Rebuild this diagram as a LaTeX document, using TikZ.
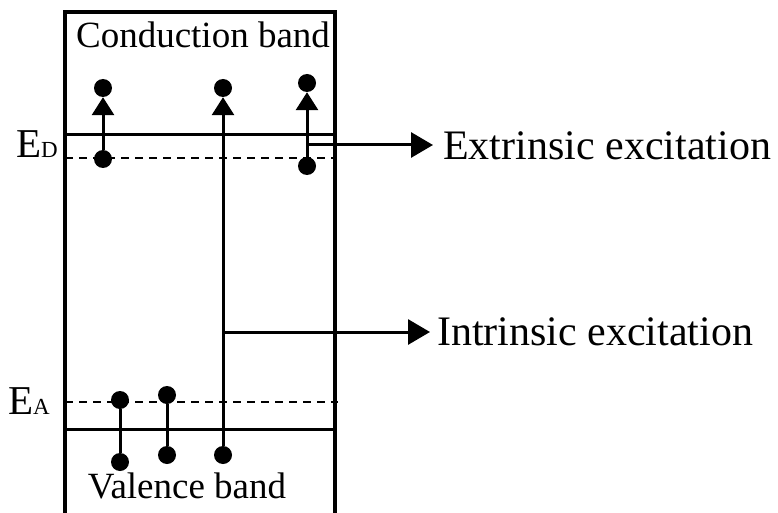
\documentclass[tikz,border=0pt]{standalone}
\usepackage{fontspec}
\setmainfont{Liberation Serif}
\usetikzlibrary{arrows.meta}

\tikzset{
  dot/.style={circle, fill=black, inner sep=0pt, minimum size=18pt},
  frame/.style={line width=3.5pt},
  level/.style={line width=3pt},
  donor/.style={line width=2pt, dash pattern=on 8pt off 6pt},
  stem/.style={line width=3pt},
  uparrow/.style={stem, -{Triangle[width=22pt,length=18pt]}},
  sidearrow/.style={stem, -{Triangle[width=25pt,length=22pt]}},
  bigtext/.style={font=\fontsize{42}{48}\selectfont, inner sep=0pt},
  bandtext/.style={font=\fontsize{37}{42}\selectfont, inner sep=0pt},
  levellabel/.style={anchor=base west, inner sep=0pt},
}
\newcommand{\lvl}[1]{{\fontsize{41}{44}\selectfont E}{\fontsize{23}{26}\selectfont #1}}

\begin{document}
\begin{tikzpicture}[x=1pt, y=-1pt]
  \useasboundingbox (0,0) rectangle (778,513);

  % band diagram frame (open at the bottom)
  \draw[frame] (65,513) -- (65,12) -- (335,12) -- (335,513);

  % band edges and impurity levels
  \draw[level] (65,135) -- (335,135);
  \draw[donor] (65,158) -- (335,158);
  \draw[donor] (65,402) -- (338,402);
  \draw[level] (65,429) -- (333,429);

  % band and level labels
  \node[bandtext, anchor=base] (cb) at (203,48) {Conduction band};
  \node[bandtext, anchor=base] (vb) at (187,498) {Valence band};
  \node[levellabel] (ed) at (16,158) {\lvl{D}};
  \node[levellabel] (ea) at (8,414) {\lvl{A}};

  % electrons in the conduction band
  \node[dot] (c1) at (103,88) {};
  \node[dot] (c2) at (223,88) {};
  \node[dot] (c3) at (307,83) {};

  % donor level electrons
  \node[dot] (d1) at (103,159) {};
  \node[dot] (d2) at (307,166) {};

  % acceptor level
  \node[dot] (a1) at (120,400) {};
  \node[dot] (a2) at (167,395) {};

  % valence band
  \node[dot] (v1) at (120,462) {};
  \node[dot] (v2) at (167,455) {};
  \node[dot] (v3) at (223,455) {};

  % excitations
  \draw[uparrow] (d1) -- (c1);
  \draw[uparrow] (d2) -- (c3);
  \draw[uparrow] (v3) -- (c2);
  \draw[stem] (v1) -- (a1);
  \draw[stem] (v2) -- (a2);

  % annotations
  \node[bigtext, anchor=base west, inner xsep=10pt] (ext) at (433,160) {Extrinsic excitation};
  \node[bigtext, anchor=base west, inner xsep=7pt] (int) at (430,345) {Intrinsic excitation};
  \coordinate (eo) at (309,145);
  \coordinate (io) at (223,332);
  \draw[sidearrow] (eo) -- (eo -| ext.west);
  \draw[sidearrow] (io) -- (io -| int.west);
\end{tikzpicture}
\end{document}
